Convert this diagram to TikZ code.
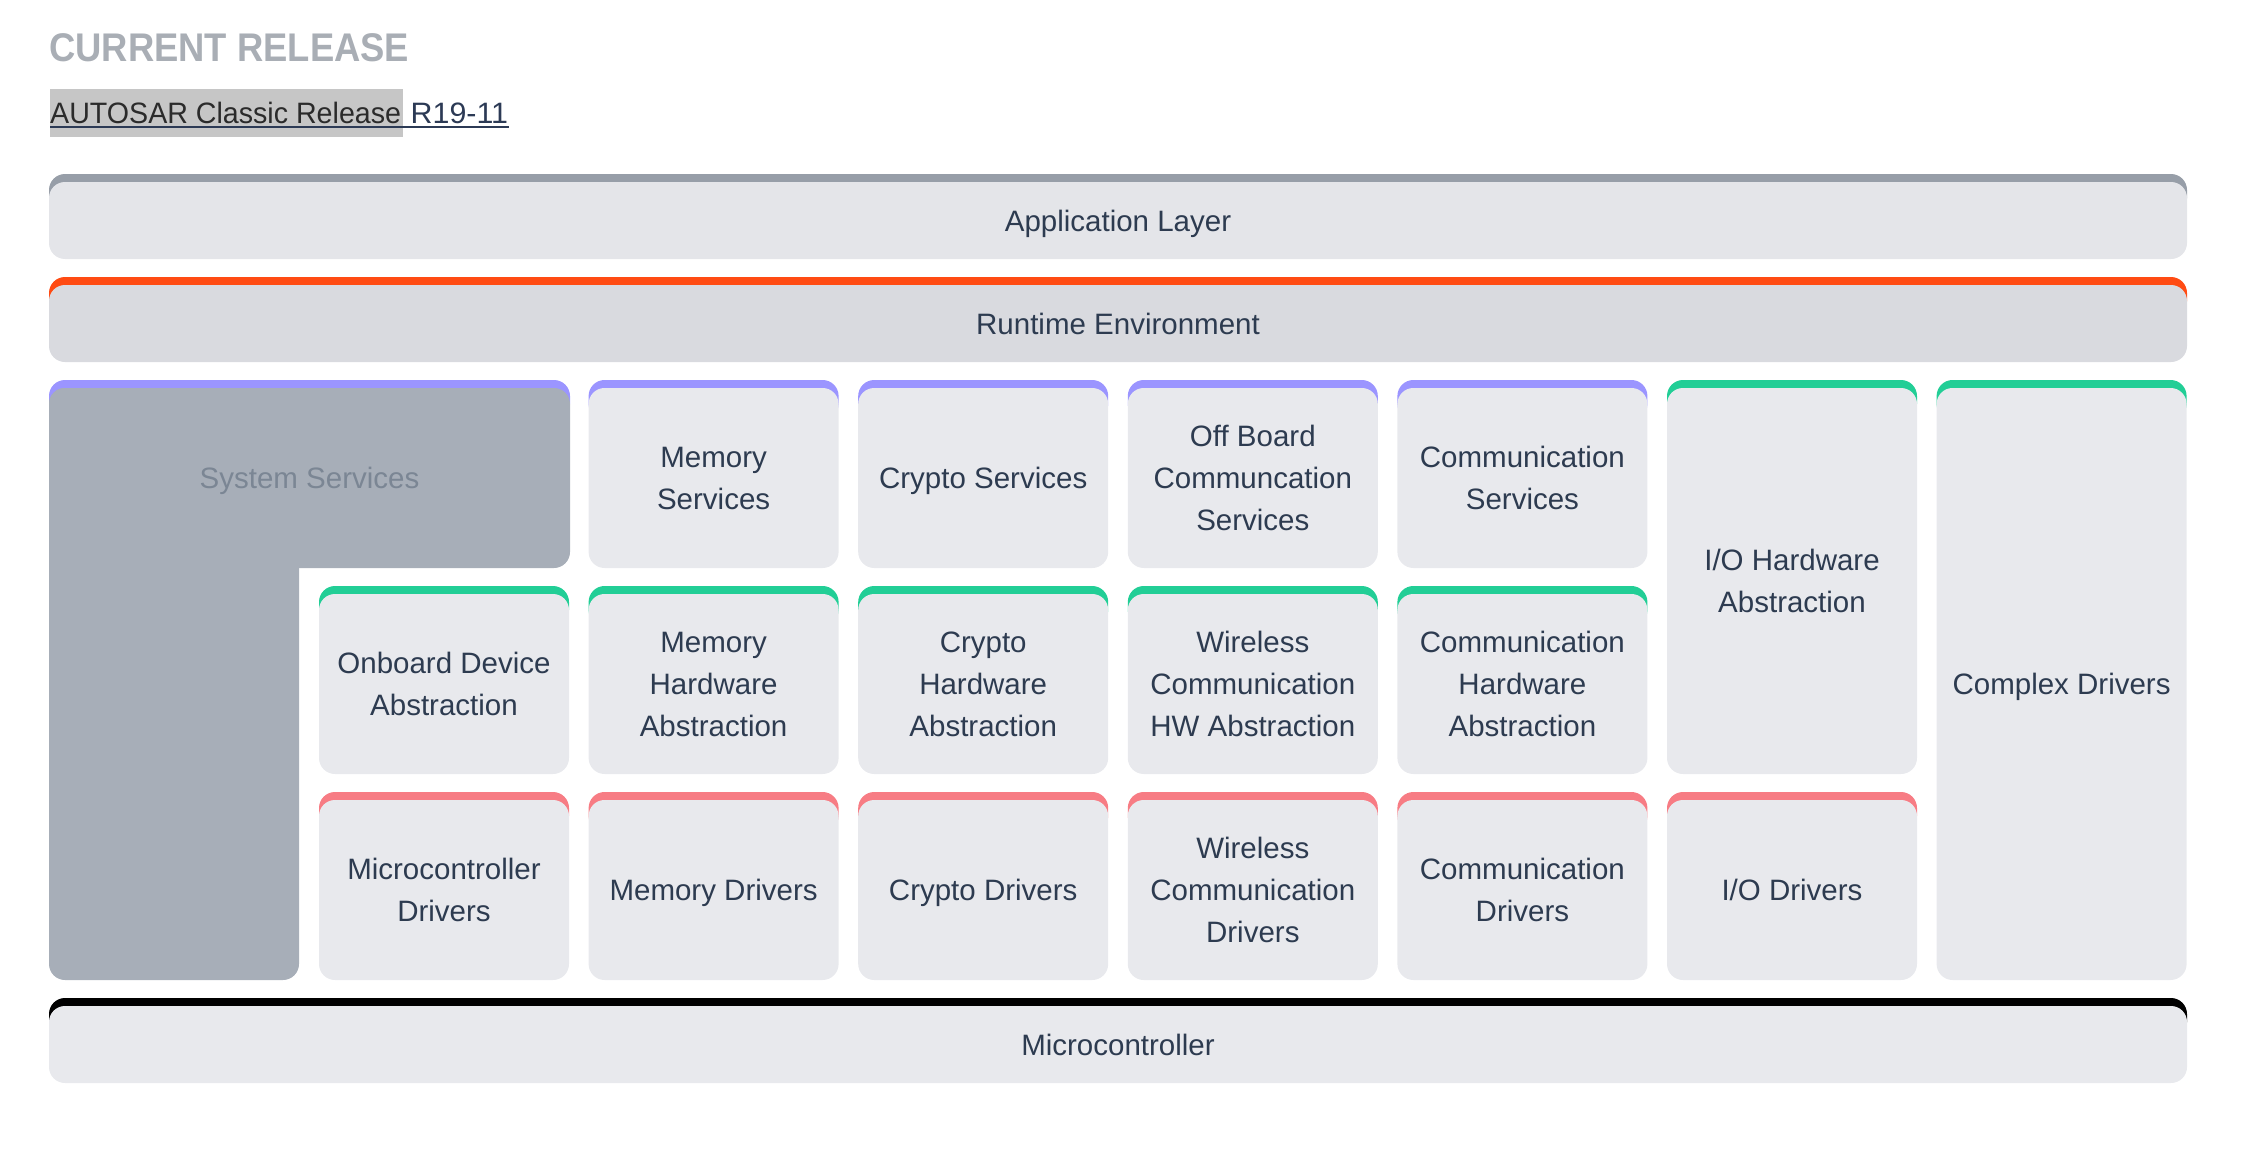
\documentclass[tikz,border=0pt]{standalone}
\usepackage{graphicx}
\usepackage{fontspec}
\setmainfont{Liberation Sans}

\definecolor{titlegray}{HTML}{A9AEB5}
\definecolor{linkdark}{HTML}{2B2B2B}
\definecolor{linknavy}{HTML}{2C3A55}
\definecolor{hlgray}{HTML}{C6C6C6}
\definecolor{textnavy}{HTML}{2D3B50}
\definecolor{cellfill}{HTML}{E8E9ED}
\definecolor{appfill}{HTML}{E4E5E9}
\definecolor{appbar}{HTML}{979EA8}
\definecolor{rtefill}{HTML}{D9DADF}
\definecolor{rtebar}{HTML}{FF4B13}
\definecolor{sysfill}{HTML}{A7AEB8}
\definecolor{systext}{HTML}{7B8694}
\definecolor{svcbar}{HTML}{9B95FF}
\definecolor{absbar}{HTML}{22CE96}
\definecolor{drvbar}{HTML}{F77C84}
\definecolor{mcubar}{HTML}{000000}

\newcommand\bodyfont{\fontsize{29.5}{42}\selectfont}
% one text line: cap height on top, no depth below, so boxes centre on the caps
\newcommand\tline[1]{\smash{#1}\rule{0pt}{21.1pt}}
% centred stack of lines, separated by \cr
\newcommand\stack[1]{\vbox{\halign{\hfil##\hfil\cr#1\crcr}}}

\tikzset{
  cell/.style={rectangle, rounded corners=16pt, inner sep=0pt, outer sep=0pt,
    fill=cellfill, text=textnavy, font=\bodyfont},
  barfill/.style={rounded corners=16pt},
}

% #1 extra options, #2 name, #3 left, #4 top, #5 right, #6 bottom, #7 bar colour, #8 lines
\newcommand\cellbox[8][]{%
  \fill[barfill, #7] (#3,#4) rectangle (#5,#4+40);
  \pgfmathsetmacro\cellw{#5-#3}%
  \pgfmathsetmacro\cellh{#6-#4-8}%
  \node[cell, minimum width=\cellw pt, minimum height=\cellh pt, #1]
    (#2) at ({(#3+#5)/2},{(#4+8+#6)/2}) {\stack{#8}};
}

\begin{document}
\begin{tikzpicture}[x=1pt, y=-1pt]
\useasboundingbox (0,0) rectangle (2257,1156);

% heading and release link
\node[anchor=base west, inner sep=0pt, text=titlegray,
  font=\fontsize{40}{48}\selectfont\bfseries] (title) at (49,62)
  {\scalebox{0.91}[1]{CURRENT RELEASE}};
\fill[hlgray] (50.1,89.3) rectangle (402.6,136.7);
\node[anchor=base west, inner sep=0pt, text=linkdark,
  font=\fontsize{29.5}{36}\selectfont] (rel) at (50,123.3)
  {\scalebox{0.97}[1]{AUTOSAR Classic Release}};
\node[anchor=base west, inner sep=0pt, text=linknavy,
  font=\fontsize{29.5}{36}\selectfont] (ver) at (410.5,123.3)
  {\scalebox{1.03}[1]{R19-11}};
\path (rel.base west) ++(0,3.6) coordinate (u1)
      (ver.base east) ++(1,3.6) coordinate (u2);
\draw[linknavy, line width=2.2pt] (u1) -- (u2);

% full-width layers
\cellbox[fill=appfill]{app}{49}{174}{2187}{259}{appbar}{\tline{Application Layer}}
\cellbox[fill=rtefill]{rte}{49}{277}{2187}{362}{rtebar}{\tline{Runtime Environment}}
\cellbox{mcu}{49}{998}{2187}{1083}{mcubar}{\tline{Microcontroller}}

% system services (L shape)
\fill[barfill, svcbar] (49,380) rectangle (570,420);
\fill[barfill, sysfill] (49,388) rectangle (299,980);
\node[cell, fill=sysfill, text=systext, minimum width=521pt, minimum height=180pt]
  (sys) at (309.5,478) {\stack{\tline{System Services}}};

% services row
\cellbox{memsvc}{588.6}{380}{838.6}{568}{svcbar}{\tline{Memory}\cr\tline{Services}}
\cellbox{crysvc}{858.2}{380}{1108.2}{568}{svcbar}{\tline{Crypto Services}}
\cellbox{offsvc}{1127.8}{380}{1377.8}{568}{svcbar}{\tline{Off Board}\cr\tline{Communcation}\cr\tline{Services}}
\cellbox{comsvc}{1397.4}{380}{1647.4}{568}{svcbar}{\tline{Communication}\cr\tline{Services}}

% hardware abstraction row
\cellbox{onbabs}{319}{586}{569}{774}{absbar}{\tline{Onboard Device}\cr\tline{Abstraction}}
\cellbox{memabs}{588.6}{586}{838.6}{774}{absbar}{\tline{Memory}\cr\tline{Hardware}\cr\tline{Abstraction}}
\cellbox{cryabs}{858.2}{586}{1108.2}{774}{absbar}{\tline{Crypto}\cr\tline{Hardware}\cr\tline{Abstraction}}
\cellbox{wlsabs}{1127.8}{586}{1377.8}{774}{absbar}{\tline{Wireless}\cr\tline{Communication}\cr\tline{HW Abstraction}}
\cellbox{comabs}{1397.4}{586}{1647.4}{774}{absbar}{\tline{Communication}\cr\tline{Hardware}\cr\tline{Abstraction}}
\cellbox{ioabs}{1667}{380}{1917}{774}{absbar}{\tline{I/O Hardware}\cr\tline{Abstraction}}
\cellbox{cdd}{1936.6}{380}{2186.6}{980}{absbar}{\tline{Complex Drivers}}

% driver row
\cellbox{mcudrv}{319}{792}{569}{980}{drvbar}{\tline{Microcontroller}\cr\tline{Drivers}}
\cellbox{memdrv}{588.6}{792}{838.6}{980}{drvbar}{\tline{Memory Drivers}}
\cellbox{crydrv}{858.2}{792}{1108.2}{980}{drvbar}{\tline{Crypto Drivers}}
\cellbox{wlsdrv}{1127.8}{792}{1377.8}{980}{drvbar}{\tline{Wireless}\cr\tline{Communication}\cr\tline{Drivers}}
\cellbox{comdrv}{1397.4}{792}{1647.4}{980}{drvbar}{\tline{Communication}\cr\tline{Drivers}}
\cellbox{iodrv}{1667}{792}{1917}{980}{drvbar}{\tline{I/O Drivers}}

\end{tikzpicture}
\end{document}
